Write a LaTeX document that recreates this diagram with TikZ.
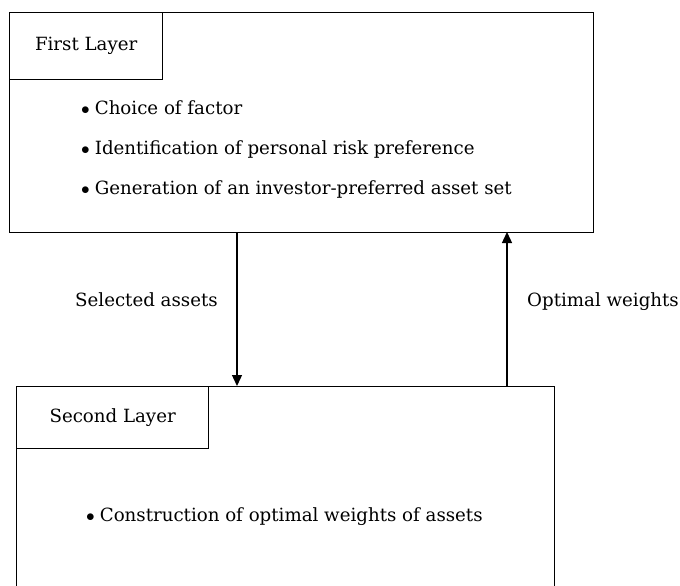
\documentclass[tikz,border=0pt]{standalone}
\usepackage{fontspec}
\setmainfont{DejaVu Serif}
\usetikzlibrary{arrows.meta}
\begin{document}
\begin{tikzpicture}[x=1pt,y=-1pt,
  box/.style={draw, line width=1.3pt, inner sep=0pt, anchor=north west},
  tab/.style={draw, line width=1.3pt, inner sep=0pt, anchor=north west, font=\fontsize{18.2}{22}\selectfont},
  item/.style={anchor=base west, inner sep=0pt, font=\fontsize{18.2}{22}\selectfont},
  lbl/.style={anchor=base west, inner sep=0pt, font=\fontsize{18.2}{22}\selectfont},
  arr/.style={line width=1.3pt, -{Triangle[length=11pt,width=10pt]}}]
\useasboundingbox (0,0) rectangle (680,586);
\clip (0,0) rectangle (680,586);
\node[box, minimum width=584pt, minimum height=220pt] (L1) at (9,12) {};
\node[tab, minimum width=153pt, minimum height=67pt] (T1) at (9,12) {First Layer};
\node[item] (i1) at (81,114.5) {$\bullet$\hspace{5pt}Choice of factor};
\node[item] (i2) at (81,154.5) {$\bullet$\hspace{5pt}Identification of personal risk preference};
\node[item] (i3) at (81,194.5) {$\bullet$\hspace{5pt}Generation of an investor-preferred asset set};
\node[box, minimum width=538pt, minimum height=240pt] (L2) at (16,386) {};
\node[tab, minimum width=192pt, minimum height=62pt] (T2) at (16,386) {Second Layer};
\node[item] (j1) at (86,521) {$\bullet$\hspace{5pt}Construction of optimal weights of assets};
\coordinate (dtop) at (237,232);
\coordinate (dbot) at (237,386);
\coordinate (utop) at (507,232);
\coordinate (ubot) at (507,386);
\draw[arr] (dtop) -- (dbot);
\draw[arr] (ubot) -- (utop);
\node[lbl] (sa) at (75,306) {Selected assets};
\node[lbl] (ow) at (527,306) {Optimal weights};
\end{tikzpicture}
\end{document}
